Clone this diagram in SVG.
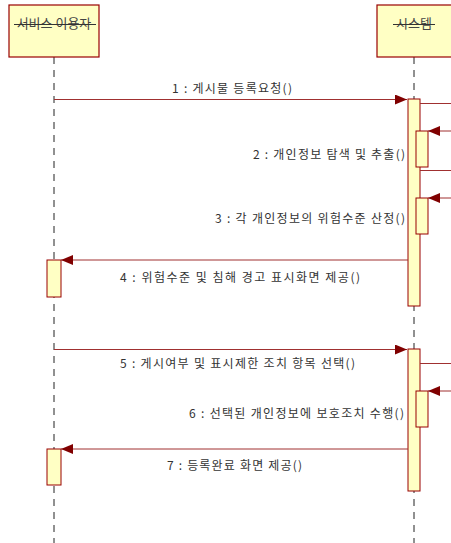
<svg xmlns="http://www.w3.org/2000/svg" width="451" height="543" viewBox="0 0 451 543">
<defs>
<marker id="ah" markerWidth="12" markerHeight="10" refX="12" refY="5" orient="auto" markerUnits="userSpaceOnUse">
<path d="M0,0 L12,5 L0,10 Z" fill="#800000"/>
</marker>
<style>
.box{fill:#FFFFC4;stroke:#990000;stroke-width:1.2}
.act{fill:#FFFFC4;stroke:#990000;stroke-width:1}
.life{stroke:#222;stroke-width:1;stroke-dasharray:7,6;fill:none}
.msg{stroke:#A03030;stroke-width:1;fill:none}
.lbl{font-family:"Noto Sans CJK KR","Noto Sans",sans-serif;font-size:12px;fill:#333}
.hd{font-family:"Noto Sans CJK KR","Noto Sans",sans-serif;font-size:13px;fill:#444}
</style>
</defs>
<rect width="451" height="543" fill="#fff"/>
<g id="lifelines">
<line class="life" x1="54" y1="57" x2="54" y2="543"/>
<line class="life" x1="414" y1="57" x2="414" y2="543"/>
</g>
<g id="user">
<rect class="box" x="9" y="5" width="90" height="52"/>
<text class="hd" x="54" y="28" text-anchor="middle">서비스 이용자</text>
<line x1="14" y1="24.5" x2="96" y2="24.5" stroke="#333" stroke-width="1"/>
</g>
<g id="system">
<rect class="box" x="377" y="5" width="80" height="52"/>
<text class="hd" x="414" y="28" text-anchor="middle">시스템</text>
<line x1="393" y1="24.5" x2="435" y2="24.5" stroke="#333" stroke-width="1"/>
</g>
<g id="activations">
<rect class="act" x="408" y="99" width="12" height="207"/>
<rect class="act" x="416" y="131" width="12" height="36"/>
<rect class="act" x="416" y="198" width="12" height="36"/>
<rect class="act" x="47" y="260" width="14" height="37"/>
<rect class="act" x="408" y="349" width="12" height="142"/>
<rect class="act" x="416" y="391" width="12" height="36"/>
<rect class="act" x="47" y="449" width="14" height="36"/>
</g>
<g id="connectors">
<line class="msg" x1="54" y1="99.5" x2="407" y2="99.5" marker-end="url(#ah)"/>
<line class="msg" x1="420" y1="103.5" x2="451" y2="103.5"/>
<line class="msg" x1="451" y1="131" x2="428" y2="131" marker-end="url(#ah)"/>
<line class="msg" x1="420" y1="170.5" x2="451" y2="170.5"/>
<line class="msg" x1="451" y1="198" x2="428" y2="198" marker-end="url(#ah)"/>
<line class="msg" x1="408" y1="260" x2="61" y2="260" marker-end="url(#ah)"/>
<line class="msg" x1="54" y1="349.5" x2="407" y2="349.5" marker-end="url(#ah)"/>
<line class="msg" x1="420" y1="363.5" x2="451" y2="363.5"/>
<line class="msg" x1="451" y1="391" x2="428" y2="391" marker-end="url(#ah)"/>
<line class="msg" x1="408" y1="449" x2="61" y2="449" marker-end="url(#ah)"/>
</g>
<g id="labels">
<text class="lbl" x="172" y="93" textLength="120" lengthAdjust="spacing">1 : 게시물 등록요청()</text>
<text class="lbl" x="253" y="159" textLength="152" lengthAdjust="spacing">2 : 개인정보 탐색 및 추출()</text>
<text class="lbl" x="215" y="223" textLength="190" lengthAdjust="spacing">3 : 각 개인정보의 위험수준 산정()</text>
<text class="lbl" x="120" y="282" textLength="240" lengthAdjust="spacing">4 : 위험수준  및 침해 경고 표시화면 제공()</text>
<text class="lbl" x="120" y="368" textLength="235" lengthAdjust="spacing">5 : 게시여부 및 표시제한 조치 항목 선택()</text>
<text class="lbl" x="189" y="418" textLength="215" lengthAdjust="spacing">6 : 선택된 개인정보에 보호조치 수행()</text>
<text class="lbl" x="167" y="470" textLength="135" lengthAdjust="spacing">7 : 등록완료 화면 제공()</text>
</g>
</svg>
